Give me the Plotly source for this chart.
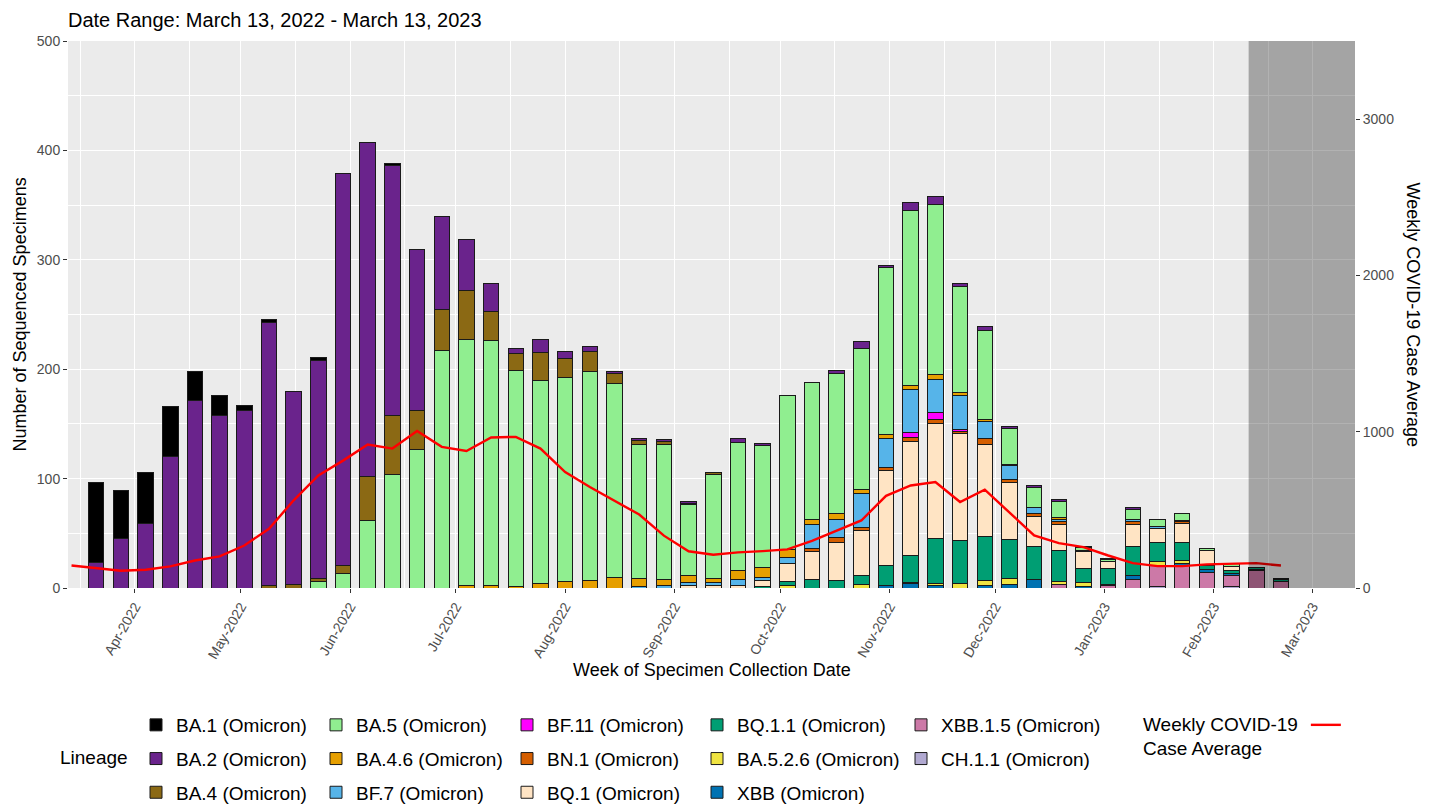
import pandas as pd
import plotly.graph_objects as go

# ---------------- data ----------------
week_dates = pd.date_range("2022-03-21", periods=49, freq="7D")
case_dates = pd.date_range("2022-03-14", periods=50, freq="7D")

lineages = ["BA.1 (Omicron)", "BA.2 (Omicron)", "BA.4 (Omicron)",
            "BA.5 (Omicron)", "BA.4.6 (Omicron)", "BF.7 (Omicron)",
            "BF.11 (Omicron)", "BN.1 (Omicron)", "BQ.1 (Omicron)",
            "BQ.1.1 (Omicron)", "BA.5.2.6 (Omicron)", "XBB (Omicron)",
            "XBB.1.5 (Omicron)", "CH.1.1 (Omicron)"]

colors = ["#000000", "#6A238C", "#8B6914",
          "#90EE90", "#E69F00", "#56B4E9",
          "#FF00FF", "#D55E00", "#FFE4C4",
          "#009E73", "#F0E442", "#0072B2",
          "#CC79A7", "#B1A9D1"]

BA_1 = [73, 44, 47, 46, 27, 18, 5, 2, 0, 3, 0, 0, 2] + [0] * 36
BA_2 = [23, 45, 59, 120, 171, 158, 162, 241, 177, 199, 358, 305, 228, 147, 85,
        47, 25, 5, 12, 6, 5, 2, 2, 2, 2, 0, 4, 2, 0, 0, 3, 6, 2, 7, 7, 2, 4, 2,
        2, 2, 1, 1, 2] + [0] * 6
BA_4 = [0] * 7 + [2, 3, 3, 8, 40, 54, 35, 38, 45, 27, 15, 25, 18, 18, 9, 4, 3,
                  1, 2] + [0] * 23
BA_5 = [0] * 9 + [6, 13, 62, 104, 127, 217, 225, 224, 198, 186, 186, 191, 177,
                  122, 123, 65, 95, 117, 111, 141, 125, 128, 129, 153, 160, 156,
                  97, 81, 33, 18, 15, 3, 2, 9, 7, 6, 2, 2, 0, 0]
BA_4_6 = [0] * 15 + [2, 2, 1, 4, 6, 7, 10, 8, 6, 6, 4, 8, 9, 7, 5, 5, 4, 3, 4,
                     4, 3, 2, 1, 0, 1] + [0] * 9
BF_7 = [0] * 22 + [1, 2, 3, 3, 6, 3, 6, 22, 17, 31, 27, 39, 31, 31, 15, 13, 6,
                   2, 1, 0, 2, 2, 1] + [0] * 4
BF_11 = [0] * 33 + [4, 6, 2] + [0] * 13
BN_1 = [0] * 29 + [3, 4, 2, 3, 4, 4, 2, 6, 3, 3, 3, 0, 0, 3, 0, 2] + [0] * 4
BQ_1 = [0] * 24 + [2, 2, 2, 6, 16, 25, 35, 42, 86, 104, 105, 98, 84, 52, 27, 24,
                   15, 6, 20, 12, 17, 13, 4, 0, 1]
BQ_1_1 = [0] * 27 + [1, 4, 8, 7, 8, 19, 25, 41, 39, 40, 35, 30, 28, 13, 15, 27,
                     18, 17, 4, 3, 2, 2]
BA_5_2_6 = [0] * 28 + [2, 0, 0, 3, 0, 1, 2, 4, 5, 6, 0, 3, 4, 0, 0, 3, 3] + [0] * 4
XBB = [0] * 32 + [2, 4, 2, 0, 2, 3, 8, 0, 1, 1, 3, 0, 1, 3, 2, 1, 0]
XBB_1_5 = [0] * 39 + [3, 0, 2, 8, 20, 21, 14, 10, 16, 6]
CH_1_1 = [0] * 43 + [1, 0, 0, 1, 0, 0]

series = [BA_1, BA_2, BA_4, BA_5, BA_4_6, BF_7, BF_11, BN_1, BQ_1, BQ_1_1,
          BA_5_2_6, XBB, XBB_1_5, CH_1_1]

case_avg = [144, 125, 110, 117, 138, 176, 202, 272, 379, 561, 720, 815, 918,
            892, 1005, 903, 877, 963, 967, 892, 742, 646, 558, 470, 335, 235,
            213, 228, 236, 247, 302, 366, 432, 590, 656, 678, 550, 629, 480,
            337, 287, 262, 208, 159, 140, 140, 151, 155, 159, 144]

shade_start = "2023-02-10 20:00"
shade_end = "2023-03-13"

# ---------------- layout constants ----------------
# the page body adds an 8px margin, so the figure is drawn 8px in from the
# top-left corner; targets below are given in screenshot pixels.
OFF = 8
W, H = 1440 - OFF, 804 - OFF
ML, MR, MT, MB = 68 - OFF, 85, 41 - OFF, 216
PW, PH = W - ML - MR, H - MT - MB


def px_x(px):
    return (px - OFF - ML) / PW


def px_y(py):
    return (H - MB - (py - OFF)) / PH


FONT = "Liberation Sans, Arial, Helvetica, sans-serif"
bar_width_ms = 4.4 * 24 * 3600 * 1000

fig = go.Figure()

legend_ids = ["legend", "legend2", "legend3", "legend4", "legend5"]

# add bottom-of-stack first (reverse of legend order)
for i in reversed(range(len(lineages))):
    vals = [v if v > 0 else None for v in series[i]]
    fig.add_trace(go.Bar(
        x=week_dates, y=vals, name=lineages[i],
        marker=dict(color=colors[i], line=dict(color="#1a1a1a", width=1)),
        width=bar_width_ms,
        legend=legend_ids[i // 3], legendgroup=lineages[i], legendrank=i + 1,
        hovertemplate="%{x|%b %d, %Y}<br>" + lineages[i] + ": %{y}<extra></extra>",
    ))

fig.add_trace(go.Scatter(
    x=case_dates, y=case_avg, mode="lines", name=" ",
    line=dict(color="#FF0000", width=2.4), yaxis="y2", legend="legend6",
    hovertemplate="%{x|%b %d, %Y}<br>Weekly COVID-19 Case Average: %{y}<extra></extra>",
))

tick_font = dict(family=FONT, size=14, color="#4D4D4D")
legend_font = dict(family=FONT, size=19, color="#000000")

leg_cols_px = [136, 316, 507, 697, 901]
legend_top = px_y(706)
legend_kw = {}
for k, lid in enumerate(legend_ids):
    legend_kw[lid] = dict(
        x=px_x(leg_cols_px[k]), y=legend_top, xanchor="left", yanchor="top",
        orientation="v", traceorder="grouped", tracegroupgap=6,
        font=legend_font, bgcolor="rgba(0,0,0,0)", itemclick=False,
        itemdoubleclick=False,
    )
legend_kw["legend6"] = dict(
    x=px_x(1141), y=px_y(706), xanchor="left", yanchor="top",
    orientation="v", font=legend_font, bgcolor="rgba(0,0,0,0)",
    title=dict(text="Weekly COVID-19<br>Case Average", side="left",
               font=legend_font),
)

fig.update_layout(
    template="none",
    width=W, height=H,
    margin=dict(l=ML, r=MR, t=MT, b=MB, autoexpand=False),
    plot_bgcolor="#EBEBEB", paper_bgcolor="white",
    barmode="stack",
    font=dict(family=FONT, color="#000000"),
    title=dict(text="Date Range: March 13, 2022 - March 13, 2023",
               x=(68 - OFF) / W, xanchor="left", xref="container",
               y=1 - (20 - OFF) / H, yanchor="middle", yref="container",
               font=dict(family=FONT, size=20, color="#000000")),
    xaxis=dict(
        type="date", range=["2022-03-13", "2023-03-13"],
        dtick="M1", tick0="2022-04-01", tickformat="%b-%Y", tickangle=-60,
        ticks="outside", ticklen=4, tickcolor="#333333", tickwidth=1,
        tickfont=tick_font, showgrid=True, gridcolor="white", gridwidth=1.1,
        minor=dict(dtick="M1", tick0="2022-03-16 12:00", showgrid=True,
                   gridcolor="white", gridwidth=0.5, ticks=""),
        zeroline=False, showline=False, automargin=False,
    ),
    yaxis=dict(
        range=[0, 500], dtick=100, tick0=0,
        ticks="outside", ticklen=4, tickcolor="#333333", tickwidth=1,
        tickfont=tick_font, showgrid=True, gridcolor="white", gridwidth=1.1,
        minor=dict(dtick=50, tick0=0, showgrid=True, gridcolor="white",
                   gridwidth=0.5, ticks=""),
        zeroline=False, showline=False, automargin=False,
    ),
    yaxis2=dict(
        range=[0, 3500], tickvals=[0, 1000, 2000, 3000], overlaying="y",
        side="right", ticks="outside", ticklen=4, tickcolor="#333333",
        tickwidth=1, tickfont=tick_font, showgrid=False, zeroline=False,
        showline=False, automargin=False,
    ),
    shapes=[dict(type="rect", xref="x", yref="paper", x0=shade_start,
                 x1=shade_end, y0=0, y1=1, fillcolor="rgba(0,0,0,0.3)",
                 line=dict(width=0), layer="above")],
    annotations=[
        dict(text="Number of Sequenced Specimens", textangle=-90,
             xref="paper", yref="paper", x=px_x(19), y=0.5,
             xanchor="center", yanchor="middle", showarrow=False,
             font=dict(family=FONT, size=18, color="#000000")),
        dict(text="Weekly COVID-19 Case Average", textangle=90,
             xref="paper", yref="paper", x=px_x(1413), y=0.5,
             xanchor="center", yanchor="middle", showarrow=False,
             font=dict(family=FONT, size=18, color="#000000")),
        dict(text="Week of Specimen Collection Date",
             xref="paper", yref="paper", x=0.5, y=px_y(670),
             xanchor="center", yanchor="middle", showarrow=False,
             font=dict(family=FONT, size=18, color="#000000")),
        dict(text="Lineage", xref="paper", yref="paper", x=px_x(94),
             y=px_y(757), xanchor="center", yanchor="middle", showarrow=False,
             font=dict(family=FONT, size=19, color="#000000")),
    ],
    **legend_kw,
)

fig.write_html("out.html")
